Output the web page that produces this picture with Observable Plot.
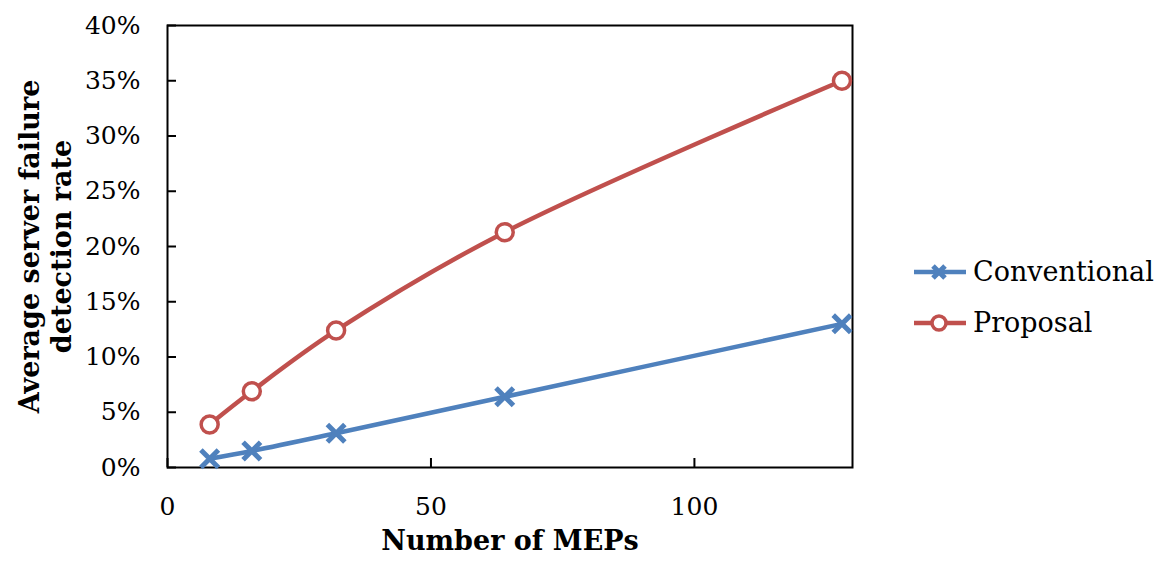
<!DOCTYPE html>
<html>
<head>
<meta charset="utf-8">
<script src="https://cdn.jsdelivr.net/npm/d3@7"></script>
<script src="https://cdn.jsdelivr.net/npm/@observablehq/plot@0.6"></script>
<style>
  html, body { margin: 0; padding: 0; background: #fff; }
  #wrap { position: relative; width: 1158px; height: 563px; font-family: "DejaVu Serif", serif; }
  #chart svg g[aria-label="x-axis tick label"],
  #chart svg g[aria-label="y-axis tick label"] { font-size: 25px !important; }
  #legend { position: absolute; left: 912px; top: 246px; font-size: 27px; color: #000; }
  #legend .row { display: flex; align-items: center; height: 51px; }
  #legend svg { margin-right: 5px; }
</style>
</head>
<body>
<div id="wrap">
  <div id="chart"></div>
  <div id="legend"></div>
</div>
<script>
const meps = [8, 16, 32, 64, 128];
const conventional = [0.008, 0.015, 0.031, 0.064, 0.130];
const proposal = [0.039, 0.069, 0.124, 0.213, 0.350];
const seriesNames = ["Conventional", "Proposal"];
const seriesColors = ["#4F81BD", "#C0504D"];
const xTicks = [0, 50, 100];
const yTicks = [0, 0.05, 0.10, 0.15, 0.20, 0.25, 0.30, 0.35, 0.40];
const xDomain = [0, 130];
const yDomain = [0, 0.4];

const conv = meps.map((m, i) => ({x: m, y: conventional[i], s: seriesNames[0]}));
const prop = meps.map((m, i) => ({x: m, y: proposal[i], s: seriesNames[1]}));

const W = 1158, H = 563, ML = 167, MR = 306, MT = 25, MB = 96, TICK = 9;
// inward tick lengths expressed in data units (TICK pixels)
const xTickLen = (xDomain[1] - xDomain[0]) * TICK / (W - ML - MR);
const yTickLen = (yDomain[1] - yDomain[0]) * TICK / (H - MT - MB);

const chart = Plot.plot({
  width: W,
  height: H,
  marginLeft: ML,
  marginRight: MR,
  marginTop: MT,
  marginBottom: MB,
  style: {fontFamily: "DejaVu Serif, serif", fontSize: "25px", color: "#000", background: "#fff"},
  x: {domain: xDomain, ticks: xTicks},
  y: {domain: yDomain, ticks: yTicks},
  marks: [
    Plot.axisX({ticks: xTicks, tickSize: 0, tickPadding: 30, label: null, tickFormat: d => d}),
    Plot.axisY({ticks: yTicks, tickSize: 0, tickPadding: 27, label: null, tickFormat: d3.format(".0%")}),
    Plot.ruleX(xTicks, {x: d => d, y1: yDomain[0], y2: yDomain[0] + yTickLen, stroke: "#000", strokeWidth: 2}),
    Plot.ruleY(yTicks, {y: d => d, x1: xDomain[0], x2: xDomain[0] + xTickLen, stroke: "#000", strokeWidth: 2}),
    Plot.frame({stroke: "#000", strokeWidth: 2}),
    Plot.line(conv, {x: "x", y: "y", stroke: seriesColors[0], strokeWidth: 4.5, curve: "catmull-rom"}),
    Plot.line(prop, {x: "x", y: "y", stroke: seriesColors[1], strokeWidth: 4.5, curve: "catmull-rom"}),
    Plot.dot(conv, {x: "x", y: "y", symbol: "times", r: 8, stroke: seriesColors[0], strokeWidth: 5}),
    Plot.dot(prop, {x: "x", y: "y", symbol: "circle", r: 8.5, fill: "#fff", stroke: seriesColors[1], strokeWidth: 3.5}),
    Plot.text(["Number of MEPs"], {frameAnchor: "bottom", dy: 82, fontWeight: "bold", fontSize: 27, textAnchor: "middle"}),
    Plot.text(["Average server failure"], {frameAnchor: "left", dx: -137, rotate: -90, fontWeight: "bold", fontSize: 27, textAnchor: "middle"}),
    Plot.text(["detection rate"], {frameAnchor: "left", dx: -105, rotate: -90, fontWeight: "bold", fontSize: 27, textAnchor: "middle"})
  ]
});
document.getElementById("chart").appendChild(chart);

const legend = document.getElementById("legend");
seriesNames.forEach((name, i) => {
  const row = document.createElement("div");
  row.className = "row";
  const sym = i === 0
    ? `<path d="M21,-6L33,6M33,-6L21,6" stroke="${seriesColors[0]}" stroke-width="5"/>`
    : `<circle cx="27" cy="0" r="7" fill="#fff" stroke="${seriesColors[1]}" stroke-width="3.5"/>`;
  row.innerHTML = `<svg width="56" height="20" viewBox="0 -10 56 20"><line x1="2" x2="54" y1="0" y2="0" stroke="${seriesColors[i]}" stroke-width="4.5"/>${sym}</svg><span>${name}</span>`;
  legend.appendChild(row);
});
</script>
</body>
</html>
